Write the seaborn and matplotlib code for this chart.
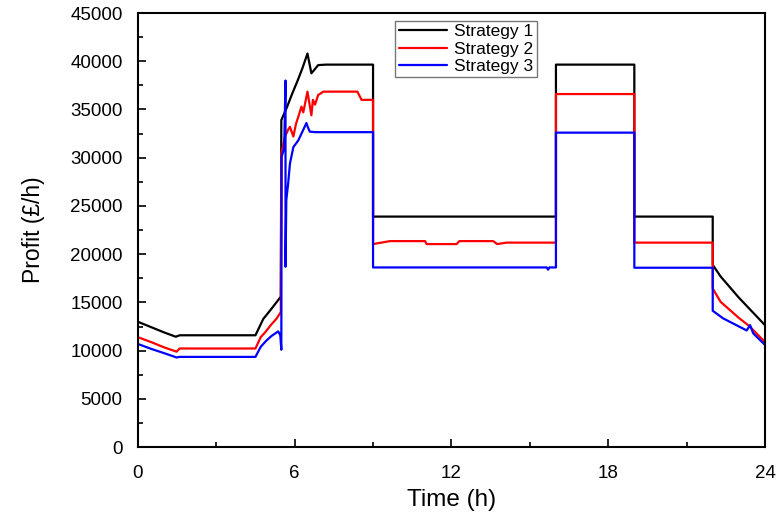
import matplotlib
matplotlib.use("Agg")
import matplotlib.pyplot as plt
import pandas as pd
import seaborn as sns
from matplotlib.ticker import MultipleLocator

# Strategy 1 (black)
t1 = [0, 0.5, 1.0, 1.45, 1.6, 4.5, 4.8, 5.1, 5.47, 5.49, 5.7, 5.9, 6.1, 6.3, 6.49,
      6.64, 6.75, 6.9, 7.2, 9.0, 9.0, 16.0, 16.0, 19.0, 19.0, 22.0, 22.0, 22.3,
      23.0, 24.0]
y1 = [13000, 12450, 11900, 11450, 11600, 11600, 13300, 14300, 15600, 33900, 35200,
      36600, 37900, 39300, 40800, 38750, 39100, 39600, 39650, 39650, 23900, 23900,
      39650, 39650, 23900, 23900, 18900, 17700, 15500, 12650]

# Strategy 2 (red)
t2 = [0, 0.5, 1.0, 1.48, 1.6, 4.5, 4.7, 4.9, 5.1, 5.3, 5.47, 5.49, 5.63, 5.75,
      5.82, 5.95, 6.05, 6.14, 6.26, 6.33, 6.49, 6.64, 6.7, 6.78, 6.9, 7.1, 8.4,
      8.56, 9.0, 9.0, 9.65, 10.99, 11.05, 12.2, 12.3, 13.6, 13.75, 14.1, 16.0,
      16.0, 19.0, 19.0, 22.0, 22.0, 22.3, 23.0, 23.4, 24.0]
y2 = [11400, 10900, 10350, 9900, 10230, 10230, 11400, 12000, 12700, 13300, 14000,
      30400, 32200, 32900, 33200, 32200, 33500, 34250, 35300, 34700, 36850, 34400,
      36000, 35500, 36500, 36850, 36850, 36000, 36000, 21050, 21360, 21360, 21050,
      21050, 21360, 21360, 21050, 21200, 21200, 36600, 36600, 21200, 21200, 16450,
      15070, 13400, 12550, 10900]

# Strategy 3 (blue)
t3 = [0, 0.5, 1.0, 1.48, 1.6, 4.5, 4.7, 4.9, 5.1, 5.37, 5.45, 5.49, 5.5, 5.6,
      5.65, 5.65, 5.68, 5.75, 5.82, 5.95, 6.14, 6.33, 6.45, 6.5, 6.58, 6.8, 9.0,
      9.0, 15.65, 15.7, 15.75, 16.0, 16.0, 19.0, 19.0, 22.0, 22.0, 22.4, 23.3,
      23.43, 23.55, 24.0]
y3 = [10700, 10200, 9750, 9300, 9360, 9360, 10400, 11000, 11500, 12000, 11600,
      10100, 30100, 31000, 38000, 18700, 25600, 27300, 29400, 31100, 31800, 32900,
      33600, 33200, 32700, 32650, 32650, 18630, 18630, 18400, 18630, 18630, 32600,
      32600, 18600, 18600, 14140, 13350, 12100, 12650, 11800, 10600]

strategies = ["Strategy 1", "Strategy 2", "Strategy 3"]
colors = ["#000000", "#ff0000", "#0000ff"]

frames = []
for name, t, y in zip(strategies, [t1, t2, t3], [y1, y2, y3]):
    frames.append(pd.DataFrame({"time": t, "profit": y, "strategy": name}))
df = pd.concat(frames, ignore_index=True)

sns.set_style("ticks")
plt.rcParams["font.family"] = ["Liberation Sans", "DejaVu Sans"]
plt.rcParams["text.color"] = "black"
plt.rcParams["axes.labelcolor"] = "black"
plt.rcParams["xtick.color"] = "black"
plt.rcParams["ytick.color"] = "black"
plt.rcParams["axes.edgecolor"] = "black"

fig, ax = plt.subplots(figsize=(7.79, 5.2), dpi=100)
fig.subplots_adjust(left=0.177, right=0.982, top=0.975, bottom=0.14)

for name, c in zip(strategies, colors):
    sub = df[df["strategy"] == name]
    sns.lineplot(data=sub, x="time", y="profit", sort=False, estimator=None,
                 color=c, linewidth=1.6, label=name, ax=ax)

ax.set_xlim(0, 24)
ax.set_ylim(0, 45000)
ax.xaxis.set_major_locator(MultipleLocator(6))
ax.xaxis.set_minor_locator(MultipleLocator(3))
ax.yaxis.set_major_locator(MultipleLocator(5000))
ax.yaxis.set_minor_locator(MultipleLocator(2500))
ax.tick_params(which="major", direction="in", length=6, width=1.2, labelsize=13.5,
               top=False, right=False)
ax.tick_params(axis="y", which="major", pad=11)
ax.tick_params(axis="x", which="major", pad=13)
ax.tick_params(which="minor", direction="in", length=3.5, width=1.2,
               top=False, right=False)
for sp in ax.spines.values():
    sp.set_linewidth(1.5)
    sp.set_visible(True)

ax.set_xlabel("Time (h)", fontsize=17.5, labelpad=5)
ax.set_ylabel("Profit (£/h)", fontsize=16.5, labelpad=18)

leg = ax.legend(loc="upper left", bbox_to_anchor=(0.405, 0.99), fontsize=12.5,
                frameon=True, fancybox=False, handlelength=2.8, borderpad=0.2,
                labelspacing=0.12, handletextpad=0.4, borderaxespad=0.2)
leg.get_frame().set_edgecolor("#555555")
leg.get_frame().set_linewidth(1.0)

fig.savefig("out.png", dpi=100)
